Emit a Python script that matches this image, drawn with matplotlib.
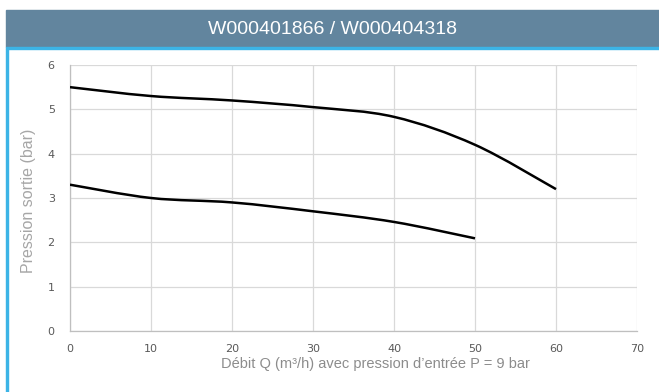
"""Pressure curves W000401866 / W000404318."""
import matplotlib
matplotlib.use("Agg")
import matplotlib.pyplot as plt
from matplotlib.path import Path
from matplotlib.patches import PathPatch, Rectangle

# data
debit = [0, 10, 20, 30, 40, 50, 60]
pression_haute = [5.5, 5.3, 5.2, 5.05, 4.83, 4.2, 3.2]
debit_bas = [0, 10, 20, 30, 40, 50]
pression_basse = [3.3, 3.0, 2.9, 2.7, 2.46, 2.09]

x_ticks = [0, 10, 20, 30, 40, 50, 60, 70]
y_ticks = [0, 1, 2, 3, 4, 5, 6]
title = "W000401866 / W000404318"
xlabel = "Débit Q (m³/h) avec pression d’entrée P = 9 bar"
ylabel = "Pression sortie (bar)"


def smooth_path(xs, ys):
    """Excel-like smoothed line: Catmull-Rom segments as cubic Beziers."""
    pts = list(zip(xs, ys))
    verts = [pts[0]]
    codes = [Path.MOVETO]
    n = len(pts)
    for i in range(n - 1):
        p0 = pts[i - 1] if i > 0 else pts[i]
        p1 = pts[i]
        p2 = pts[i + 1]
        p3 = pts[i + 2] if i + 2 < n else pts[i + 1]
        c1 = (p1[0] + (p2[0] - p0[0]) / 6, p1[1] + (p2[1] - p0[1]) / 6)
        c2 = (p2[0] - (p3[0] - p1[0]) / 6, p2[1] - (p3[1] - p1[1]) / 6)
        verts += [c1, c2, p2]
        codes += [Path.CURVE4] * 3
    return Path(verts, codes)


fig = plt.figure(figsize=(6.59, 3.92), dpi=100)

# header band
fig.patches.append(Rectangle((6 / 659, 1 - 47 / 392), 1, 37 / 392,
                             transform=fig.transFigure, color="#62859e", zorder=0))
fig.patches.append(Rectangle((6 / 659, 1 - 49 / 392), 1, 2 / 392,
                             transform=fig.transFigure, color="#3cb4e6", zorder=0))
fig.patches.append(Rectangle((6 / 659, 0), 1.5 / 659, 1 - 49 / 392,
                             transform=fig.transFigure, color="#3cb4e6", zorder=0))
fig.text(332 / 659, 1 - 29 / 392, title, color="white", ha="center", va="center",
         fontsize=14, family="Liberation Sans")

ax = fig.add_axes([70 / 659, 1 - 331 / 392, 567 / 659, 266 / 392])
for xs, ys in [(debit, pression_haute), (debit_bas, pression_basse)]:
    ax.add_patch(PathPatch(smooth_path(xs, ys), facecolor="none",
                           edgecolor="black", lw=1.8, capstyle="butt", zorder=3))

ax.set_xlim(0, 70)
ax.set_ylim(0, 6)
ax.set_xticks(x_ticks)
ax.set_yticks(y_ticks)
ax.grid(True, color="#d9d9d9", lw=0.9)
ax.set_axisbelow(True)
ax.tick_params(length=0, labelsize=8, colors="#595959")
ax.tick_params(axis="x", pad=9)
ax.tick_params(axis="y", pad=11)
for side in ["top", "right"]:
    ax.spines[side].set_visible(False)
for side in ["left", "bottom"]:
    ax.spines[side].set_color("#bfbfbf")
    ax.spines[side].set_linewidth(0.9)

ax.set_xlabel(xlabel, color="#8c8c8c", fontsize=10.5, family="Liberation Sans",
              va="center")
ax.xaxis.set_label_coords(0.538, -0.124)
ax.set_ylabel(ylabel, color="#a6a6a6", fontsize=11.5, family="Liberation Sans",
              va="center")
ax.yaxis.set_label_coords(-0.074, 0.489)

fig.savefig("out.png", dpi=100)
